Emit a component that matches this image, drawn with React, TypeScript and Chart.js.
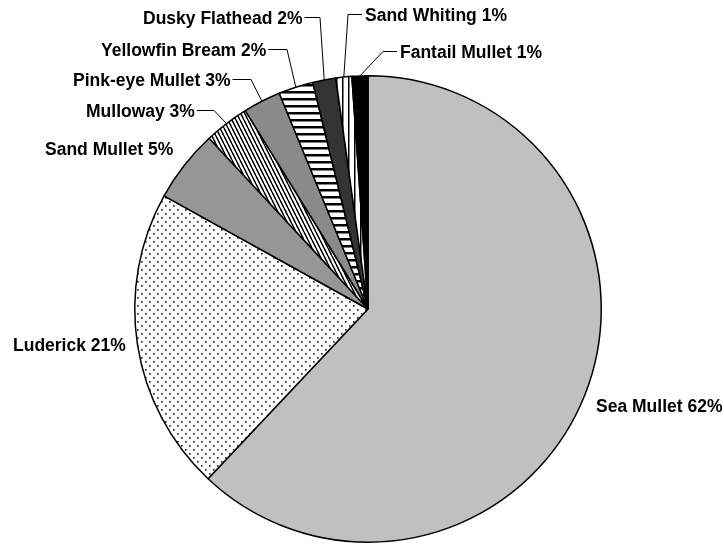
import React, { useEffect, useRef } from "react";
import { Chart, registerables } from "chart.js";

Chart.register(...registerables);

const categories = [
  "Sea Mullet",
  "Luderick",
  "Sand Mullet",
  "Mulloway",
  "Pink-eye Mullet",
  "Yellowfin Bream",
  "Dusky Flathead",
  "Sand Whiting",
  "Fantail Mullet",
];
const values = [61.9, 21.0, 5.0, 3.1, 2.6, 2.4, 1.6, 1.1, 1.1];

// label layout: text left x, text baseline, elbow x of leader (null = no leader), text on right of leader
const labelLayout = [
  { x: 596, base: 412, elbow: null, right: false },
  { x: 13, base: 351, elbow: null, right: false },
  { x: 45, base: 155, elbow: null, right: false },
  { x: 86, base: 117, elbow: 214, right: false },
  { x: 73, base: 86, elbow: 251, right: false },
  { x: 101, base: 56, elbow: 287, right: false },
  { x: 143, base: 24, elbow: 320, right: false },
  { x: 365, base: 21, elbow: 348, right: true },
  { x: 400, base: 58, elbow: 383, right: true },
];

function makePattern(kind: string): CanvasPattern | string {
  const c = document.createElement("canvas");
  const g = c.getContext("2d")!;
  if (kind === "dots") {
    c.width = 8;
    c.height = 8;
    g.fillStyle = "#fff";
    g.fillRect(0, 0, 8, 8);
    g.fillStyle = "#333";
    g.fillRect(1, 1, 1.7, 1.7);
    g.fillRect(5, 5, 1.7, 1.7);
  } else if (kind === "diag") {
    c.width = 4;
    c.height = 8;
    g.fillStyle = "#fff";
    g.fillRect(0, 0, 4, 8);
    g.strokeStyle = "#000";
    g.lineWidth = 1.5;
    for (let k = -1; k <= 1; k++) {
      g.beginPath();
      g.moveTo(k * 4, 0);
      g.lineTo(k * 4 + 4, 8);
      g.stroke();
    }
  } else if (kind === "horiz") {
    c.width = 7;
    c.height = 7;
    g.fillStyle = "#fff";
    g.fillRect(0, 0, 7, 7);
    g.fillStyle = "#000";
    g.fillRect(0, 0, 7, 2.5);
  } else if (kind === "vert") {
    c.width = 6;
    c.height = 6;
    g.fillStyle = "#fff";
    g.fillRect(0, 0, 6, 6);
    g.fillStyle = "#000";
    g.fillRect(0, 0, 1.5, 6);
  }
  const ctx2 = document.createElement("canvas").getContext("2d")!;
  return ctx2.createPattern(c, "repeat") || "#fff";
}

const FONT = 'bold 17.5px "Liberation Sans", Arial, sans-serif';

const labelPlugin = {
  id: "pieLabels",
  afterDatasetsDraw(chart: any) {
    const ctx: CanvasRenderingContext2D = chart.ctx;
    const meta = chart.getDatasetMeta(0);
    const total = values.reduce((a, b) => a + b, 0);
    ctx.save();
    ctx.font = FONT;
    ctx.fillStyle = "#000";
    ctx.strokeStyle = "#000";
    ctx.lineWidth = 1;
    ctx.textBaseline = "alphabetic";
    ctx.textAlign = "left";
    meta.data.forEach((arc: any, i: number) => {
      const p = arc.getProps(["x", "y", "startAngle", "endAngle", "outerRadius"], true);
      const lay = labelLayout[i];
      const text = `${categories[i]} ${Math.round((values[i] / total) * 100)}%`;
      ctx.fillText(text, lay.x, lay.base);
      if (lay.elbow !== null) {
        const w = ctx.measureText(text).width;
        const ly = lay.base - 6.5;
        const sx = lay.right ? lay.x - 3 : lay.x + w + 2;
        const mid = (p.startAngle + p.endAngle) / 2;
        const ex = p.x + p.outerRadius * Math.cos(mid);
        const ey = p.y + p.outerRadius * Math.sin(mid);
        ctx.beginPath();
        ctx.moveTo(sx, ly);
        ctx.lineTo(lay.elbow, ly);
        ctx.lineTo(ex, ey);
        ctx.stroke();
      }
    });
    ctx.restore();
  },
};

export default function App() {
  const ref = useRef<HTMLCanvasElement>(null);
  useEffect(() => {
    if (!ref.current) return;
    const fills = [
      "#c0c0c0",
      makePattern("dots"),
      "#969696",
      makePattern("diag"),
      "#8a8a8a",
      makePattern("horiz"),
      "#333333",
      makePattern("vert"),
      "#000000",
    ];
    const chart = new Chart(ref.current, {
      type: "pie",
      data: {
        labels: categories,
        datasets: [
          {
            data: values,
            backgroundColor: fills as any,
            borderColor: "#000",
            borderWidth: 1.5,
          },
        ],
      },
      options: {
        animation: false,
        responsive: false,
        layout: { padding: { left: 134, right: 122, top: 75, bottom: 1 } },
        plugins: {
          legend: { display: false },
          tooltip: { enabled: false },
        },
      },
      plugins: [labelPlugin],
    });
    return () => chart.destroy();
  }, []);
  return (
    <div style={{ position: "absolute", left: 0, top: 0, width: 724, height: 544, background: "#fff" }}>
      <canvas ref={ref} width={724} height={544} />
    </div>
  );
}
